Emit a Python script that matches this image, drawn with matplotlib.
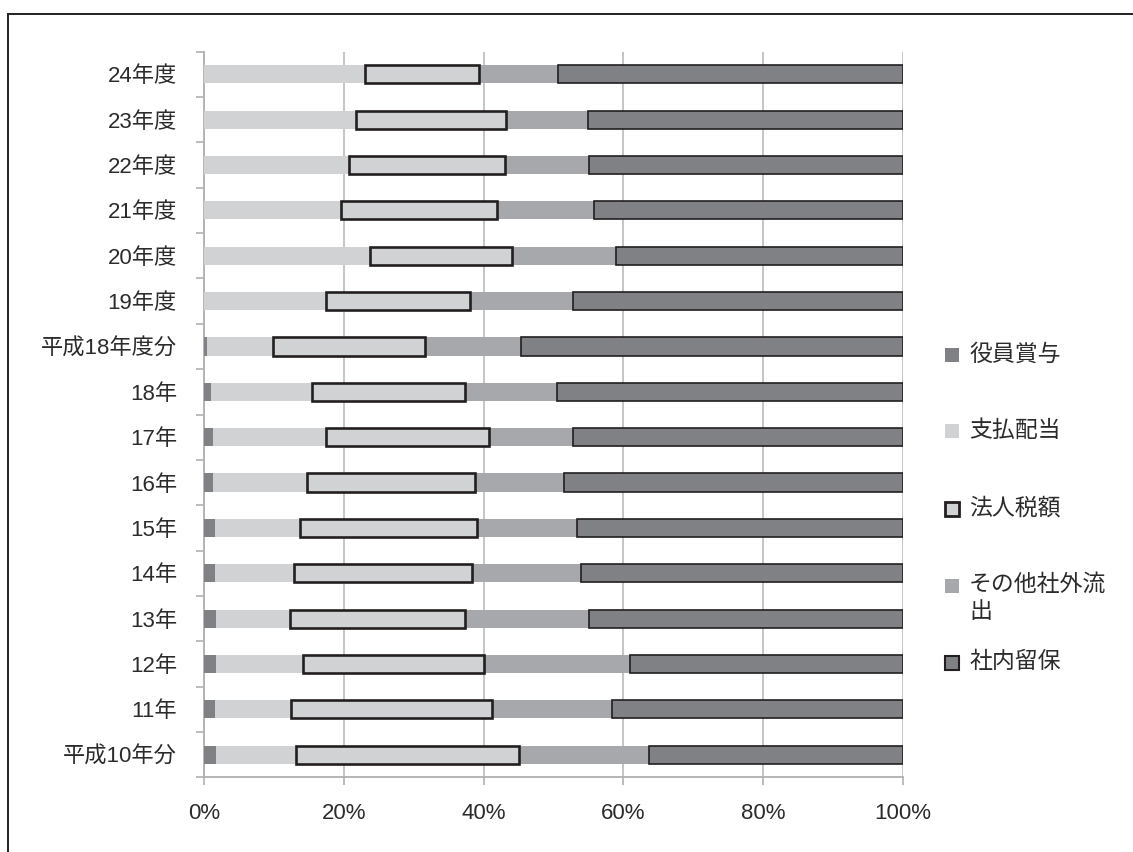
import matplotlib
matplotlib.use("Agg")
import matplotlib.pyplot as plt
from matplotlib.patches import Rectangle
from matplotlib.lines import Line2D
import numpy as np

FONTS = ['Liberation Sans', 'Noto Sans CJK JP', 'DejaVu Sans']
plt.rcParams['font.family'] = FONTS

categories = ['平成10年分', '11年', '12年', '13年', '14年', '15年', '16年', '17年', '18年',
              '平成18年度分', '19年度', '20年度', '21年度', '22年度', '23年度', '24年度']
bonus     = [1.7, 1.6, 1.7, 1.7, 1.6, 1.6, 1.3, 1.3, 1.0, 0.5, 0, 0, 0, 0, 0, 0]
dividend  = [11.4, 10.9, 12.4, 10.6, 11.3, 12.2, 13.4, 16.1, 14.4, 9.4, 17.5, 23.7, 19.6, 20.8, 21.8, 23.0]
tax       = [32.0, 28.7, 26.0, 25.1, 25.5, 25.3, 24.1, 23.4, 22.0, 21.7, 20.5, 20.4, 22.3, 22.3, 21.4, 16.3]
other     = [18.6, 17.1, 20.8, 17.7, 15.5, 14.3, 12.7, 12.0, 13.1, 13.8, 14.8, 14.9, 13.9, 12.0, 11.7, 11.3]
retained  = [36.3, 41.7, 39.1, 44.9, 46.1, 46.6, 48.5, 47.2, 49.5, 54.6, 47.2, 41.0, 44.2, 44.9, 45.1, 49.4]
series_names = ['役員賞与', '支払配当', '法人税額', 'その他社外流\n出', '社内留保']
xtick_labels = ['0%', '20%', '40%', '60%', '80%', '100%']

W, H = 1133, 852
fig = plt.figure(figsize=(W / 100, H / 100), dpi=100)
ax = fig.add_axes([204 / W, 1 - 777.3 / H, (903 - 204) / W, (777.3 - 51.7) / H])

c_dark = '#808184'
c_light = '#d1d2d4'
c_mid = '#a7a8ab'
edge_dark = '#231f20'
text_col = '#2b2b2b'

y = np.arange(len(categories))
bh = 0.40
data = [bonus, dividend, tax, other, retained]
styles = [
    dict(color=c_dark, linewidth=0),
    dict(color=c_light, linewidth=0),
    dict(facecolor=c_light, edgecolor=edge_dark, linewidth=1.9),
    dict(color=c_mid, linewidth=0),
    dict(facecolor=c_dark, edgecolor=edge_dark, linewidth=1.2),
]
lefts = []
acc = np.zeros(len(categories))
for vals in data:
    lefts.append(acc.copy())
    acc = acc + np.array(vals)
for i in [0, 1, 3, 4, 2]:  # draw tax last so its outline is on top
    ax.barh(y, data[i], left=lefts[i], height=bh, zorder=4 if i == 2 else 3, **styles[i])

ax.set_xlim(0, 100)
ax.set_ylim(-0.5, len(categories) - 0.5)

ax.set_xticks([0, 20, 40, 60, 80, 100])
ax.set_xticklabels(xtick_labels)
ax.xaxis.grid(True, color='#c0c0c0', linewidth=1.3, zorder=0)
ax.set_axisbelow(True)

ax.set_yticks(np.arange(-0.5, len(categories), 1.0))
ax.set_yticklabels([])
ax.set_yticks(y, minor=True)
ax.set_yticklabels(categories, minor=True)
ax.tick_params(axis='y', which='major', length=6, width=1.2, color='#b0b0b0', direction='out')
ax.tick_params(axis='y', which='minor', length=0, pad=19.5, labelsize=16, labelcolor=text_col)
ax.tick_params(axis='x', length=6, width=1.2, color='#b0b0b0', direction='out', pad=12.5,
               labelsize=16, labelcolor=text_col)

for s in ['top', 'right']:
    ax.spines[s].set_visible(False)
for s in ['left', 'bottom']:
    ax.spines[s].set_color('#b0b0b0')
    ax.spines[s].set_linewidth(1.3)

# legend drawn manually
leg_y = [355, 431, 509, 586, 663]
leg_styles = [
    dict(facecolor=c_dark, edgecolor='none', linewidth=0),
    dict(facecolor=c_light, edgecolor='none', linewidth=0),
    dict(facecolor=c_light, edgecolor=edge_dark, linewidth=2.0),
    dict(facecolor=c_mid, edgecolor='none', linewidth=0),
    dict(facecolor=c_dark, edgecolor=edge_dark, linewidth=1.5),
]
sq = 14
for yc, st, lab in zip(leg_y, leg_styles, series_names):
    fig.add_artist(Rectangle((945 / W, 1 - (yc + sq / 2) / H), sq / W, sq / H,
                             transform=fig.transFigure, **st))
    if '\n' in lab:
        fig.text(969 / W, 1 - (yc - 13) / H, lab, fontsize=16.5, color=text_col,
                 ha='left', va='top', linespacing=1.25)
    else:
        fig.text(969 / W, 1 - (yc - 1) / H, lab, fontsize=16.5, color=text_col,
                 ha='left', va='center')

# outer frame (top and left edges)
fig.add_artist(Line2D([8 / W, 8 / W], [0, 1 - 14 / H], transform=fig.transFigure,
                      color='#222222', linewidth=1.4))
fig.add_artist(Line2D([8 / W, 1], [1 - 14 / H, 1 - 14 / H], transform=fig.transFigure,
                      color='#222222', linewidth=1.4))

fig.savefig('out.png', dpi=100, facecolor='white')
